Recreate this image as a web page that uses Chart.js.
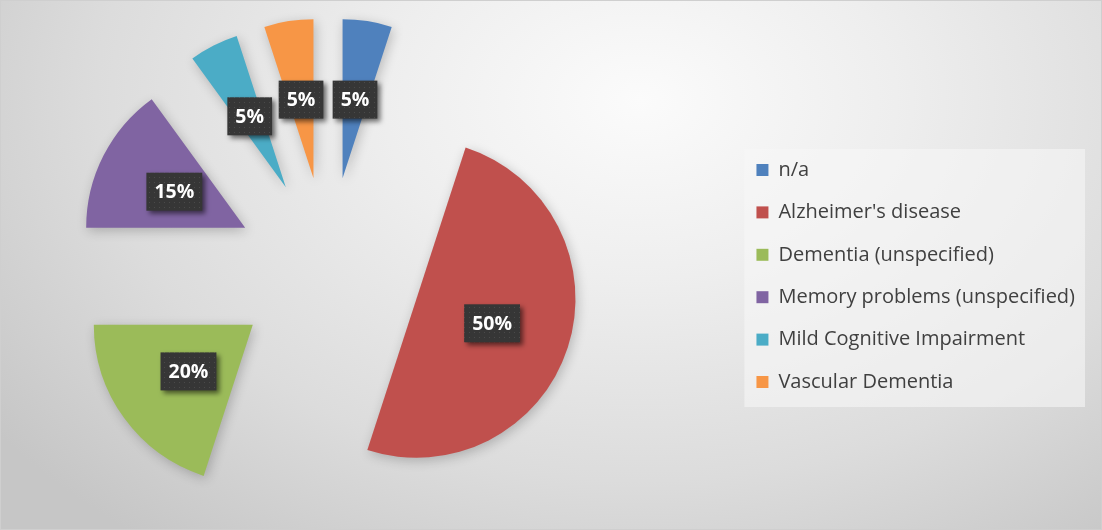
<!DOCTYPE html>
<html><head><meta charset="utf-8">
<script src="https://cdn.jsdelivr.net/npm/chart.js@4.4.1/dist/chart.umd.min.js"></script>
<style>
html,body{margin:0;padding:0;}
#wrap{position:relative;width:1102px;height:530px;overflow:hidden;
background: radial-gradient(ellipse 800px 560px at 640px 100px, #fbfbfb 0%, #eeeeee 32%, #dcdcdc 68%, #c6c6c6 100%);}
#frame{position:absolute;left:0;top:0;width:1100px;height:528px;border:1px solid #cfcfcf;pointer-events:none;}
#c{position:absolute;left:-78px;top:0;display:block}
</style></head><body>
<div id="wrap"><canvas id="c" width="1180" height="530"></canvas><div id="frame"></div></div>
<script>
// ---- data ----
const categories = ["n/a", "Alzheimer's disease", "Dementia (unspecified)", "Memory problems (unspecified)", "Mild Cognitive Impairment", "Vascular Dementia"];
const shares = [5, 50, 20, 15, 5, 5];
const sliceColors = ["#4F81BD", "#C0504D", "#9BBB59", "#8064A2", "#4BACC6", "#F79646"];

// ---- styling ----
const EXPLODE = 93;
const PIE_RADIUS = 159;

const explodePlugin = {
  id: 'explode',
  afterDatasetUpdate(chart, args) {
    args.meta.data.forEach(arc => {
      const mid = (arc.startAngle + arc.endAngle) / 2;
      arc.x += Math.cos(mid) * EXPLODE;
      arc.y += Math.sin(mid) * EXPLODE;
    });
  },
  beforeDatasetDraw(chart) {
    const ctx = chart.ctx;
    ctx.save();
    ctx.shadowColor = 'rgba(0,0,0,0.22)';
    ctx.shadowBlur = 12;
    ctx.shadowOffsetX = 2;
    ctx.shadowOffsetY = 3;
  },
  afterDatasetDraw(chart) { chart.ctx.restore(); }
};

const legendBgPlugin = {
  id: 'legendBg',
  beforeDraw(chart) {
    const hb = chart.legend && chart.legend.legendHitBoxes;
    if (!hb || !hb.length) return;
    const ctx = chart.ctx;
    const left = Math.min(...hb.map(h => h.left)) - 12;
    const right = Math.max(...hb.map(h => h.left + h.width)) + 10;
    const top = hb[0].top - 11;
    const bottom = hb[hb.length - 1].top + hb[hb.length - 1].height + 15;
    ctx.save();
    ctx.fillStyle = 'rgba(246,246,246,0.6)';
    ctx.fillRect(left, top, right - left, bottom - top);
    ctx.restore();
  }
};

function makeDotPattern(ctx) {
  const c = document.createElement('canvas');
  c.width = 5; c.height = 5;
  const g = c.getContext('2d');
  g.fillStyle = '#363636'; g.fillRect(0, 0, 5, 5);
  g.fillStyle = '#4a4a4a'; g.fillRect(2, 2, 1, 1);
  return ctx.createPattern(c, 'repeat');
}

const labelPlugin = {
  id: 'pctLabels',
  afterDatasetsDraw(chart) {
    const ctx = chart.ctx;
    const meta = chart.getDatasetMeta(0);
    const data = chart.data.datasets[0].data;
    const total = data.reduce((a, b) => a + b, 0);
    const pattern = makeDotPattern(ctx);
    ctx.save();
    ctx.font = 'bold 19.5px "Open Sans", "DejaVu Sans", sans-serif';
    ctx.textAlign = 'center';
    ctx.textBaseline = 'middle';
    meta.data.forEach((arc, i) => {
      const p = arc.getCenterPoint();
      const txt = Math.round(data[i] / total * 100) + '%';
      const w = ctx.measureText(txt).width + 16;
      const h = 38;
      ctx.save();
      ctx.shadowColor = 'rgba(0,0,0,0.55)';
      ctx.shadowBlur = 5;
      ctx.shadowOffsetX = 3;
      ctx.shadowOffsetY = 3;
      ctx.fillStyle = pattern;
      ctx.fillRect(p.x - w / 2, p.y - h / 2, w, h);
      ctx.restore();
      ctx.fillStyle = '#ffffff';
      ctx.fillText(txt, p.x, p.y + 1);
    });
    ctx.restore();
  }
};

new Chart(document.getElementById('c'), {
  type: 'pie',
  data: {
    labels: categories,
    datasets: [{
      data: shares,
      backgroundColor: sliceColors,
      borderWidth: 0
    }]
  },
  options: {
    responsive: false,
    animation: false,
    events: [],
    radius: PIE_RADIUS,
    layout: { padding: { left: 0, right: 17, top: 10, bottom: 0 } },
    plugins: {
      tooltip: { enabled: false },
      legend: {
        position: 'right',
        align: 'center',
        title: { display: true, text: '', font: { size: 1, lineHeight: 1.2 }, padding: 5.4 },
        labels: {
          boxWidth: 12,
          boxHeight: 12,
          padding: 22.4,
          color: '#404040',
          font: { family: '"Open Sans", Lato, sans-serif', size: 20 }
        }
      }
    }
  },
  plugins: [explodePlugin, legendBgPlugin, labelPlugin]
});
</script>
</body></html>
